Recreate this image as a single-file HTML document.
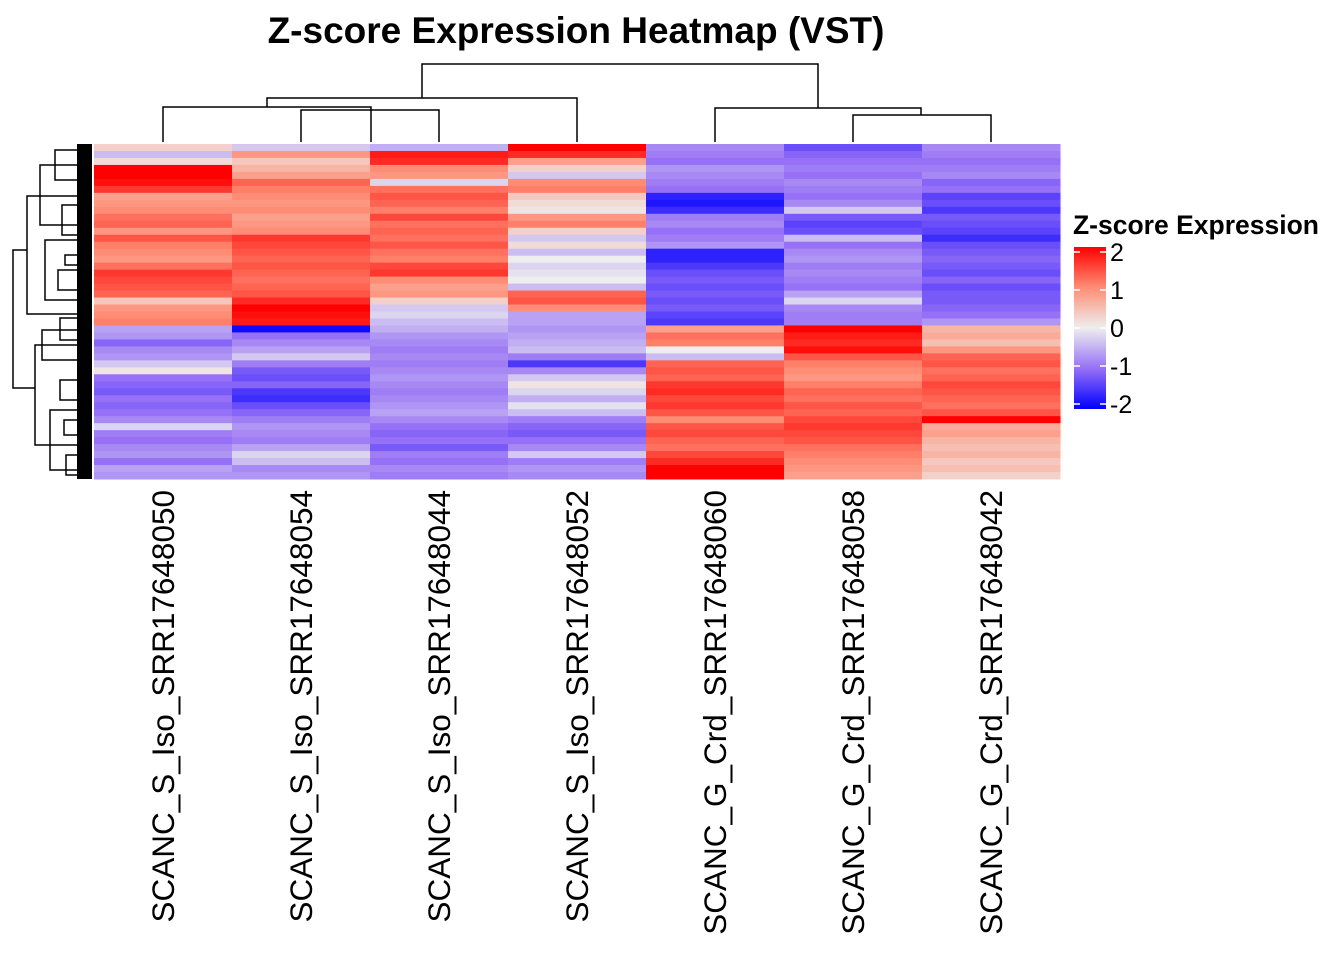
<!DOCTYPE html>
<html><head><meta charset="utf-8"><style>
html,body{margin:0;padding:0;background:#fff;}
svg{display:block;font-family:"Liberation Sans",Arial,sans-serif;}
</style></head><body>
<svg id="chart" width="1344" height="960">
<text x="576" y="43" text-anchor="middle" font-size="37" font-weight="bold">Z-score Expression Heatmap (VST)</text>
<g id="cells"></g>
<g id="coldend" stroke="#000" stroke-width="1.5" fill="none"></g>
<g id="rowdend" stroke="#000" stroke-width="1.5" fill="none"></g>
<g id="labels"></g>
<g id="legend"></g>
</svg>
<script>
const samples = ["SCANC_S_Iso_SRR17648050","SCANC_S_Iso_SRR17648054","SCANC_S_Iso_SRR17648044","SCANC_S_Iso_SRR17648052","SCANC_G_Crd_SRR17648060","SCANC_G_Crd_SRR17648058","SCANC_G_Crd_SRR17648042"];
const col1 = [0.3,-0.4,0.2,2.0,2.0,1.9,1.6,0.8,0.9,1.0,1.2,1.3,0.9,1.4,1.1,1.0,0.9,1.2,1.6,1.5,1.4,1.3,0.4,0.9,1.0,1.1,-0.6,-0.7,-1.1,-0.8,-0.7,-0.3,0.1,-1.0,-1.1,-1.2,-1.0,-1.1,-1.0,-0.8,-0.2,-0.9,-1.0,-0.8,-0.7,-1.0,-0.6,-0.7];
const col2 = [-0.3,0.9,0.4,0.6,0.8,1.3,1.1,1.0,0.9,1.0,0.8,0.9,1.0,1.6,1.5,1.4,1.3,1.4,1.3,1.2,1.3,1.4,1.7,2.0,1.9,1.8,-1.9,-1.0,-0.8,-0.6,-0.3,-0.9,-1.2,-1.3,-1.1,-1.5,-1.6,-1.3,-1.1,-0.9,-0.7,-0.8,-0.9,-0.6,-0.2,-0.4,-0.8,-0.7];
const col3 = [-0.5,1.8,1.7,1.0,0.9,-0.2,1.2,1.4,1.3,1.1,1.5,1.2,1.3,1.2,1.4,1.2,1.1,1.5,1.6,1.0,0.8,0.9,0.3,-0.3,-0.2,-0.4,-0.5,-0.7,-0.8,-0.9,-0.8,-0.9,-0.8,-0.7,-0.8,-0.9,-0.8,-0.7,-0.6,-0.8,-1.0,-1.1,-1.0,-1.2,-0.9,-1.0,-0.8,-0.9];
const col4 = [2.0,1.7,0.8,0.3,-0.3,1.0,1.1,0.4,0.2,0.1,0.9,1.1,0.3,-0.3,0.2,-0.4,0.0,-0.2,-0.1,0.0,-0.4,1.3,1.4,1.0,-0.6,-0.6,-0.7,-0.6,-0.5,-0.4,-0.9,-1.5,-0.8,-0.3,0.1,-0.2,-0.5,-0.1,-0.4,-0.9,-1.1,-1.2,-1.0,-0.8,-0.3,-0.9,-0.7,-0.8];
const col5 = [-0.8,-0.9,-1.0,-0.7,-0.8,-0.9,-1.0,-1.7,-1.8,-1.6,-0.9,-0.8,-1.0,-0.9,-0.7,-1.7,-1.7,-1.5,-1.3,-1.2,-1.3,-1.2,-1.3,-1.2,-1.4,-1.5,0.8,1.2,1.1,0.0,-0.4,1.3,1.4,1.3,1.6,1.7,1.5,1.6,1.4,1.0,1.4,1.5,1.3,1.2,1.5,1.7,2.0,2.0];
const col6 = [-1.3,-1.1,-1.0,-0.9,-1.0,-0.8,-0.9,-1.0,-0.8,-0.3,-1.2,-1.4,-1.3,-0.4,-1.0,-0.8,-0.7,-0.9,-0.8,-0.9,-1.0,-0.6,-0.2,-0.8,-0.9,-0.9,2.0,1.8,1.7,1.9,1.4,1.1,1.0,0.9,1.1,1.3,1.2,1.4,1.3,1.5,1.6,1.5,1.4,1.2,1.1,1.0,0.9,0.8];
const col7 = [-0.8,-0.9,-1.0,-0.9,-0.8,-1.1,-1.0,-1.4,-1.3,-1.5,-1.2,-1.3,-1.4,-1.6,-1.3,-1.2,-1.1,-1.2,-1.3,-1.1,-1.3,-1.2,-1.2,-1.1,-1.0,-0.7,0.6,0.7,0.5,0.9,1.3,1.4,1.2,1.3,1.5,1.4,1.3,1.2,1.4,2.0,0.7,0.8,0.6,0.5,0.6,0.4,0.5,0.3];
const legendTicks = [2,1,0,-1,-2];

const columns = [col1,col2,col3,col4,col5,col6,col7];
const NS="http://www.w3.org/2000/svg";
const X0=94, X1=1060, Y0=144, Y1=479;
const nRows = col1.length;
const cw=(X1-X0)/samples.length, rh=(Y1-Y0)/nRows;
const xPos = i => X0 + i*cw;
const yPos = r => Y0 + r*rh;
const stops=[[-2,[0,0,255]],[-1,[150,112,246]],[0,[238,238,238]],[1,[255,141,117]],[2,[255,0,0]]];
function colorOf(v){
  v=Math.max(-2,Math.min(2,v));
  for(let k=0;k<stops.length-1;k++){
    const [a,ca]=stops[k],[b,cb]=stops[k+1];
    if(v<=b){const t=(v-a)/(b-a);return 'rgb('+ca.map((c,j)=>Math.round(c+(cb[j]-c)*t)).join(',')+')';}
  }
  return 'rgb(255,0,0)';
}
const cells=document.getElementById('cells');
columns.forEach((col,i)=>{
  col.forEach((v,r)=>{
    const el=document.createElementNS(NS,'rect');
    el.setAttribute('x',xPos(i));el.setAttribute('y',yPos(r));
    el.setAttribute('width',cw+0.5);el.setAttribute('height',rh+0.5);
    el.setAttribute('fill',colorOf(v));
    
    
    cells.appendChild(el);
  });
});
function line(g,pts){
  const p=document.createElementNS(NS,'polyline');
  p.setAttribute('points',pts.map(a=>a.join(',')).join(' '));
  g.appendChild(p);
}
const cx=i=>xPos(i)+cw/2;
const cd=document.getElementById('coldend');
line(cd,[[cx(0),142],[cx(0),107],[371,107],[371,142]]);
line(cd,[[cx(1),142],[cx(1),110],[cx(2),110],[cx(2),142]]);
line(cd,[[267,107],[267,98],[cx(3),98],[cx(3),142]]);
line(cd,[[422,98],[422,64],[818,64],[818,108]]);
line(cd,[[cx(4),142],[cx(4),108],[921,108],[921,115]]);
line(cd,[[cx(5),142],[cx(5),115],[cx(6),115],[cx(6),142]]);
const rd=document.getElementById('rowdend');
line(rd,[[92,196],[27,196],[27,314],[92,314]]);
line(rd,[[27,250],[13,250],[13,388],[35,388]]);
line(rd,[[92,345],[35,345],[35,445],[92,445]]);
line(rd,[[92,165],[40,165],[40,225],[92,225]]);
line(rd,[[92,240],[45,240],[45,300],[92,300]]);
line(rd,[[92,360],[42,360],[42,330],[92,330]]);
line(rd,[[92,410],[50,410],[50,470],[92,470]]);
line(rd,[[92,150],[55,150],[55,180],[92,180]]);
line(rd,[[92,270],[58,270],[58,290],[92,290]]);
line(rd,[[92,380],[60,380],[60,400],[92,400]]);
line(rd,[[92,205],[62,205],[62,235],[92,235]]);
line(rd,[[92,255],[65,255],[65,265],[92,265]]);
line(rd,[[92,420],[64,420],[64,435],[92,435]]);
line(rd,[[92,455],[66,455],[66,475],[92,475]]);
line(rd,[[92,318],[60,318],[60,340],[92,340]]);
const blk=document.createElementNS(NS,'rect');
blk.setAttribute('x',77);blk.setAttribute('y',144);blk.setAttribute('width',15);blk.setAttribute('height',335);
blk.setAttribute('fill','#000');blk.setAttribute('stroke','none');
rd.appendChild(blk);
const lab=document.getElementById('labels');
samples.forEach((s,i)=>{
  const t=document.createElementNS(NS,'text');
  const x=cx(i)+11;
  t.setAttribute('transform','translate('+x+',490) rotate(-90)');
  t.setAttribute('text-anchor','end');t.setAttribute('font-size','31.5');
  t.textContent=s;
  
  
  lab.appendChild(t);
});
const lg=document.getElementById('legend');
const lt=document.createElementNS(NS,'text');
lt.setAttribute('x',1073);lt.setAttribute('y',234);lt.setAttribute('font-size','26.5');lt.setAttribute('font-weight','bold');
lt.textContent='Z-score Expression';


lg.appendChild(lt);
const defs=document.createElementNS(NS,'defs');
const gr=document.createElementNS(NS,'linearGradient');
gr.setAttribute('id','lgrad');gr.setAttribute('x1','0');gr.setAttribute('y1','0');gr.setAttribute('x2','0');gr.setAttribute('y2','1');
for(let k=0;k<=20;k++){const v=2-k*0.2;const st=document.createElementNS(NS,'stop');st.setAttribute('offset',(k/20));st.setAttribute('stop-color',colorOf(v));gr.appendChild(st);}
defs.appendChild(gr);lg.appendChild(defs);
const LB0=247,LB1=409;
const ly=v=>LB0+ (2-v)/4*(LB1-LB0-10)+5;
const bar=document.createElementNS(NS,'rect');
bar.setAttribute('x',1074);bar.setAttribute('y',LB0);bar.setAttribute('width',32);bar.setAttribute('height',LB1-LB0);bar.setAttribute('fill','url(#lgrad)');


lg.appendChild(bar);
legendTicks.forEach(v=>{
  const y=ly(v);
  [[1074,1080],[1100,1106]].forEach(([a,b])=>{
    const l=document.createElementNS(NS,'line');
    l.setAttribute('x1',a);l.setAttribute('x2',b);l.setAttribute('y1',y);l.setAttribute('y2',y);
    l.setAttribute('stroke','#fff');l.setAttribute('stroke-width','1.5');
    lg.appendChild(l);
  });
  const t=document.createElementNS(NS,'text');
  t.setAttribute('x',1110);t.setAttribute('y',y+9);t.setAttribute('font-size','25');
  t.textContent=String(v);
  
  
  lg.appendChild(t);
});
</script>
</body></html>
